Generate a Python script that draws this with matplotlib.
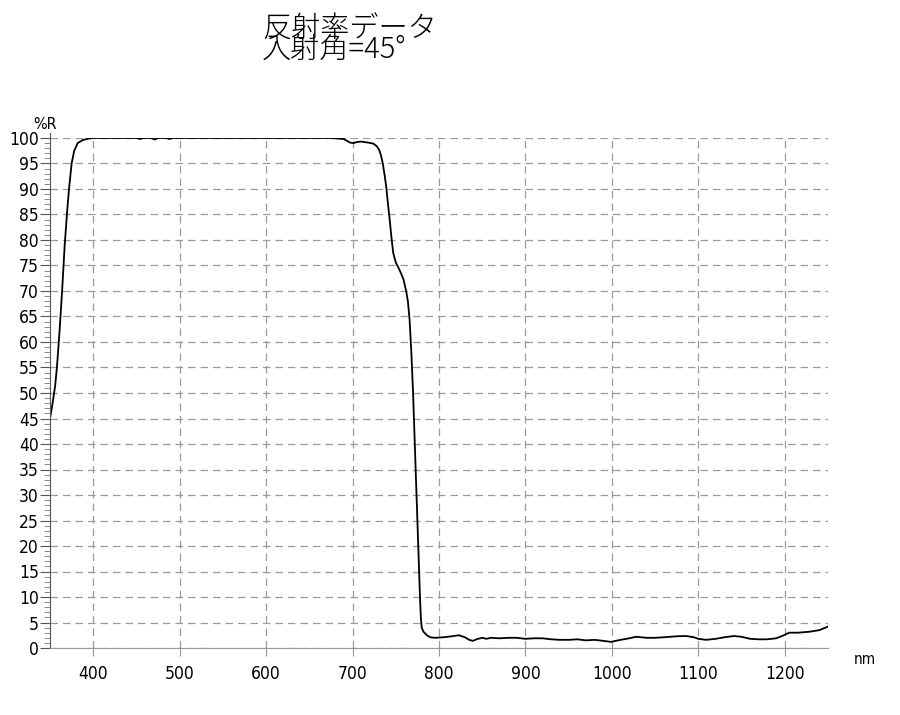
import numpy as np
from matplotlib import pyplot as plt

# wavelength (nm) and reflectance (%R)
wavelength = [350, 353, 356, 358, 361, 364, 367, 370, 372, 375, 378, 382, 388, 395, 400,
              440, 450, 454, 458, 467, 471, 475, 485, 488, 492, 600, 650, 675, 690,
              697, 701, 705, 710, 718, 724, 728, 731, 733, 735, 737, 739, 741, 743,
              745, 747, 750, 753, 756, 759, 762, 764, 766, 768, 770, 772, 774, 776,
              778, 779, 780, 782, 786, 790, 795, 805, 815, 823, 830, 835, 839, 845,
              850, 855, 860, 870, 880, 890, 900, 910, 920, 930, 940, 950, 960, 970,
              980, 990, 999, 1010, 1020, 1028, 1040, 1050, 1060, 1075, 1086, 1095,
              1100, 1109, 1120, 1130, 1141, 1150, 1160, 1170, 1179, 1190, 1197, 1205,
              1215, 1229, 1240, 1250]
reflectance = [45, 48, 51.5, 55, 62, 70, 79, 86, 90, 95, 97.5, 99, 99.6, 99.9, 100,
               100, 100, 99.8, 100, 100, 99.7, 100, 100, 99.8, 100, 100, 100, 100, 99.8,
               99.1, 99.0, 99.2, 99.3, 99.1, 98.9, 98.4, 97.6, 96.5, 95, 92.8, 90.4, 87, 83.9,
               80.5, 77.5, 75.6, 74.6, 73.5, 72.2, 70, 68, 64.3, 58, 50, 40, 30, 20,
               10, 6, 4, 3.2, 2.5, 2.1, 2.0, 2.1, 2.3, 2.5, 2.1, 1.6, 1.4, 1.8,
               2.0, 1.8, 2.0, 1.9, 2.0, 2.0, 1.8, 1.9, 1.9, 1.7, 1.6, 1.6, 1.7, 1.5,
               1.6, 1.4, 1.2, 1.6, 1.9, 2.2, 2.0, 2.0, 2.1, 2.3, 2.35, 2.1,
               1.8, 1.6, 1.8, 2.1, 2.35, 2.2, 1.8, 1.7, 1.7, 1.9, 2.35, 3.0,
               3.0, 3.2, 3.5, 4.2]

x_ticks = [400, 500, 600, 700, 800, 900, 1000, 1100, 1200]
y_ticks = list(range(0, 101, 5))

fig = plt.figure(figsize=(9, 7.15), dpi=100)
ax = fig.add_axes([50 / 900, 67 / 715, 778 / 900, 510 / 715])

ax.plot(wavelength, reflectance, color="black", lw=1.3)
ax.set_xlim(350, 1250)
ax.set_ylim(0, 100)

ax.set_xticks(x_ticks)
ax.set_yticks(y_ticks)
ax.set_yticks(range(0, 101), minor=True)
ax.grid(True, color="#9a9a9a", linestyle=(0, (6, 4)), lw=0.9)

for s in ["top", "right"]:
    ax.spines[s].set_visible(False)
ax.spines["left"].set_color("#555555")
ax.spines["bottom"].set_color("#999999")
ax.spines["left"].set_bounds(0, 101)

lab_font = dict(family="DejaVu Sans", stretch="condensed", size=12.5)
ax.set_xticklabels([str(v) for v in x_ticks], **lab_font)
ax.set_yticklabels([str(v) for v in y_ticks], **lab_font)
ax.tick_params(axis="y", which="major", length=7, width=0.8, color="#555555", pad=1)
ax.tick_params(axis="y", which="minor", length=4, width=0.6, color="#777777")
ax.tick_params(axis="x", which="major", length=6, width=0.8, color="#999999", pad=6)

ax.text(-0.022, 1.012, "%R", transform=ax.transAxes, ha="left", va="bottom",
        family="DejaVu Sans", stretch="condensed", size=11.5)
fig.text(865 / 900, 1 - 660 / 715, "nm", ha="center", va="center",
         family="DejaVu Sans", stretch="condensed", size=11)

jp = ["Noto Sans CJK JP", "DejaVu Sans"]
fig.text(262 / 900, 1 - 29 / 715, "反射率データ", ha="left", va="center",
         family=jp, size=21, weight="light")
fig.text(262 / 900, 1 - 50 / 715, "入射角=45°", ha="left", va="center",
         family=jp, size=21, weight="light")

fig.savefig("out.png", dpi=100)
